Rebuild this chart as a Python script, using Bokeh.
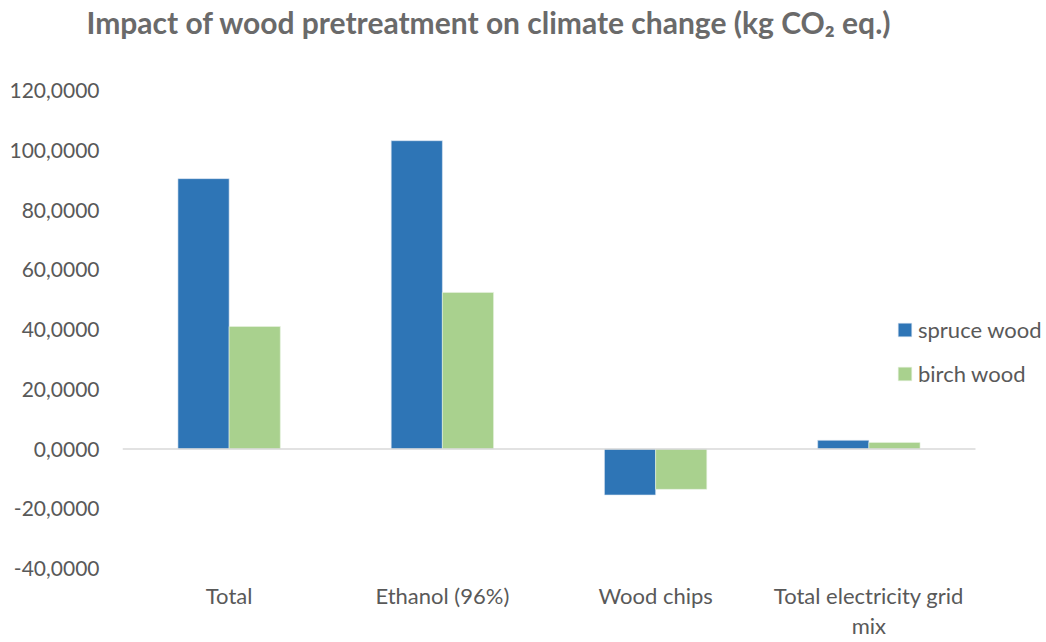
import numpy as np
from bokeh.plotting import figure
from bokeh.models import (ColumnDataSource, Range1d, FixedTicker, LinearAxis,
                          Legend, LegendItem, Title)
from bokeh.embed import file_html
from bokeh.resources import INLINE

categories = ["Total", "Ethanol (96%)", "Wood chips", "Total electricity grid mix"]
category_lines = [["Total"], ["Ethanol (96%)"], ["Wood chips"], ["Total electricity grid", "mix"]]
spruce_wood = [90.5, 103.2, -15.4, 2.9]
birch_wood = [41.0, 52.4, -13.5, 2.2]
series_names = ["spruce wood", "birch wood"]
y_ticks = [-40, -20, 0, 20, 40, 60, 80, 100, 120]

TEXT = "#595959"
FONT = "Lato"
BAR_W = 0.24

n = len(categories)
centers = np.arange(n) + 0.5
src = ColumnDataSource(dict(xs=centers - BAR_W / 2, xb=centers + BAR_W / 2,
                            spruce=spruce_wood, birch=birch_wood))

p = figure(width=1046, height=642, output_backend="svg", toolbar_location=None,
           x_range=Range1d(0, n * (1046 - 122) / (975 - 122)),
           y_range=Range1d(-40, 120),
           min_border_left=122, min_border_right=0, min_border_top=90,
           min_border_bottom=74, outline_line_color=None)

# spacer between the frame and the title (nearest to the frame)
p.add_layout(Title(text=" ", text_font_size="1px", standoff=48), "above")
p.add_layout(Title(text="Impact of wood pretreatment on climate change (kg CO\u2082 eq.)",
                   align="left", offset=-36,
                   text_font=FONT, text_font_size="30px",
                   text_font_style="bold", text_color="#6a6a6a", standoff=0), "above")

r1 = p.vbar(x="xs", top="spruce", width=BAR_W, source=src,
            fill_color="#2E75B6", line_color="#dce6f2", line_width=0.6)
r2 = p.vbar(x="xb", top="birch", width=BAR_W, source=src,
            fill_color="#A9D18E", line_color="#e8f2e0", line_width=0.6)

# zero line spanning the category area
p.segment(x0=[0], x1=[n], y0=[0], y1=[0], line_color="#D9D9D9", line_width=1.5)

p.xgrid.grid_line_color = None
p.ygrid.grid_line_color = None

p.yaxis.ticker = FixedTicker(ticks=y_ticks)
p.yaxis.major_label_overrides = {t: f"{t},0000" for t in y_ticks}

ax2 = LinearAxis()
p.add_layout(ax2, "below")
for ax, line in ((p.xaxis[0], 0), (ax2, 1)):
    ax.ticker = FixedTicker(ticks=list(centers))
    ax.major_label_overrides = {float(c): (lines[line] if line < len(lines) else "")
                                for c, lines in zip(centers, category_lines)}

for ax in list(p.xaxis) + list(p.yaxis):
    ax.axis_line_color = None
    ax.major_tick_line_color = None
    ax.minor_tick_line_color = None
    ax.major_label_text_font = FONT
    ax.major_label_text_color = TEXT
    ax.major_label_text_font_size = "22px"
p.yaxis.major_label_text_font_size = "21px"
p.yaxis.major_label_standoff = 17
p.xaxis[0].major_label_standoff = 7
ax2.major_label_standoff = -6

legend = Legend(items=[LegendItem(label=series_names[0], renderers=[r1]),
                       LegendItem(label=series_names[1], renderers=[r2])],
                location=(774, 181), orientation="vertical",
                label_text_font=FONT, label_text_font_size="22px", label_text_color=TEXT,
                glyph_width=17, glyph_height=17, label_height=17, label_standoff=5,
                spacing=17, padding=0, margin=0, border_line_color=None,
                background_fill_alpha=0)
p.add_layout(legend)

open("out.html", "w").write(file_html(p, INLINE))
